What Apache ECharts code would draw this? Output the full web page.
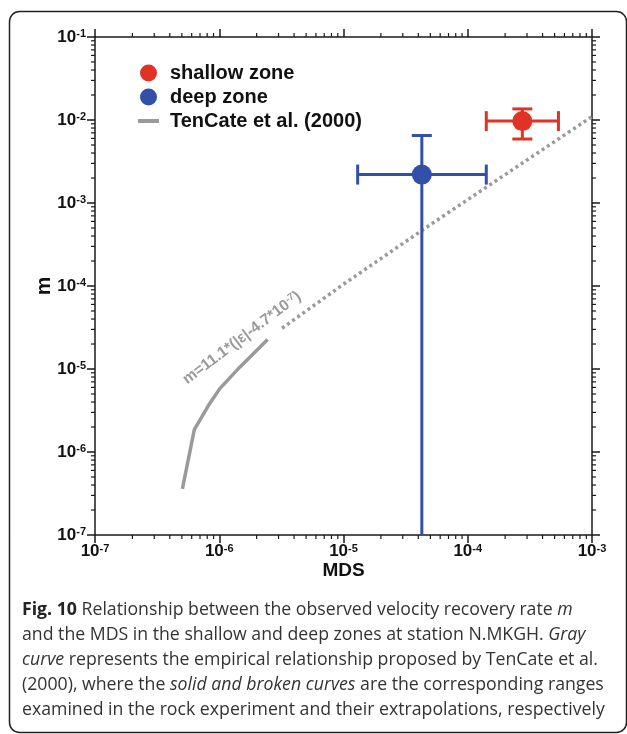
<!DOCTYPE html>
<html>
<head>
<meta charset="utf-8">
<script src="https://cdn.jsdelivr.net/npm/echarts@6/dist/echarts.min.js"></script>
<style>
  html, body { margin: 0; padding: 0; background: #fff; }
  #chart { width: 627px; height: 734px; }
</style>
</head>
<body>
<div id="chart"></div>
<script>
// tick label exponents (labels read 10^n)
var xTickExp = [-7, -6, -5, -4, -3];
var yTickExp = [-7, -6, -5, -4, -3, -2, -1];

// observed points with error bars
var zones = ["shallow zone", "deep zone"];
var mdsValues = [2.75e-4, 4.27e-5];
var mValues = [9.7e-3, 2.2e-3];
var mdsLow = [1.41e-4, 1.30e-5];
var mdsHigh = [5.37e-4, 1.41e-4];
var mLow = [5.9e-3, 1e-8]; // deep zone lower bound runs off the bottom of the axis
var mHigh = [1.36e-2, 6.5e-3];

// TenCate et al. (2000): measured range (solid) and extrapolation (dotted)
var tencateMds = [5.05e-7, 6.3e-7, 8.2e-7, 1.01e-6, 1.47e-6, 2.45e-6];
var tencateM = [3.6e-7, 1.86e-6, 3.65e-6, 5.8e-6, 1.06e-5, 2.26e-5];
var extrapMds = [3.2e-6, 1e-5, 4.3e-5, 1e-4, 1e-3];
var extrapM = [3.1e-5, 1.05e-4, 4.7e-4, 1.1e-3, 1.1e-2];

var zoneColors = ["#e03324", "#3350a8"];
var gray = "#9a9a9a";
var FONT = "Liberation Sans, Arial, sans-serif";
var CAPFONT = "Open Sans, sans-serif";

function zip(a, b) {
  return a.map(function (v, i) { return [v, b[i]]; });
}

// minor ticks 2..9 inside each decade
function minorValues(exps) {
  var out = [];
  for (var i = 0; i < exps.length - 1; i++) {
    for (var k = 2; k <= 9; k++) out.push(k * Math.pow(10, exps[i]));
  }
  return out;
}

var xMin = Math.pow(10, xTickExp[0]), xMax = Math.pow(10, xTickExp[xTickExp.length - 1]);
var yMin = Math.pow(10, yTickExp[0]), yMax = Math.pow(10, yTickExp[yTickExp.length - 1]);

function powLabel(value) {
  var e = Math.round(Math.log10(value));
  return "{b|10}{s|" + e + "}";
}
var labelRich = {
  b: { fontSize: 17, fontWeight: "bold", color: "#111", fontFamily: FONT },
  s: { fontSize: 11, fontWeight: "bold", color: "#111", fontFamily: FONT, verticalAlign: "top" }
};

var axisLine = { show: true, lineStyle: { color: "#1a1a1a", width: 1.5 } };
var axisTick = { show: true, inside: false, length: 8, lineStyle: { color: "#1a1a1a", width: 1.5 } };

var errData = zones.map(function (z, i) {
  return [mdsValues[i], mValues[i], mdsLow[i], mdsHigh[i], mLow[i], mHigh[i]];
});

function renderErr(params, api) {
  var x = api.value(0), y = api.value(1);
  var c = api.coord([x, y]);
  var l = api.coord([api.value(2), y]);
  var r = api.coord([api.value(3), y]);
  var t = api.coord([x, api.value(5)]);
  var b = api.coord([x, api.value(4)]);
  var cs = params.coordSys;
  var bottom = cs.y + cs.height;
  var by = Math.min(b[1], bottom);
  var cap = 10;
  var st = { stroke: zoneColors[params.dataIndex], lineWidth: 3 };
  var kids = [
    { type: "line", shape: { x1: l[0], y1: c[1], x2: r[0], y2: c[1] }, style: st },
    { type: "line", shape: { x1: c[0], y1: t[1], x2: c[0], y2: by }, style: st },
    { type: "line", shape: { x1: l[0], y1: c[1] - cap, x2: l[0], y2: c[1] + cap }, style: st },
    { type: "line", shape: { x1: r[0], y1: c[1] - cap, x2: r[0], y2: c[1] + cap }, style: st },
    { type: "line", shape: { x1: c[0] - cap, y1: t[1], x2: c[0] + cap, y2: t[1] }, style: st }
  ];
  if (b[1] <= bottom) {
    kids.push({ type: "line", shape: { x1: c[0] - cap, y1: b[1], x2: c[0] + cap, y2: b[1] }, style: st });
  }
  return { type: "group", children: kids };
}

var tickStyle = { stroke: "#1a1a1a", lineWidth: 1.2 };
function renderXMinor(params, api) {
  var p = api.coord([api.value(0), yMin]);
  var top = params.coordSys.y;
  return {
    type: "group", children: [
      { type: "line", shape: { x1: p[0], y1: p[1], x2: p[0], y2: p[1] + 4 }, style: tickStyle },
      { type: "line", shape: { x1: p[0], y1: top, x2: p[0], y2: top - 4 }, style: tickStyle }
    ]
  };
}
function renderYMinor(params, api) {
  var p = api.coord([xMin, api.value(1)]);
  var cs = params.coordSys;
  var right = cs.x + cs.width;
  return {
    type: "group", children: [
      { type: "line", shape: { x1: p[0], y1: p[1], x2: p[0] - 4, y2: p[1] }, style: tickStyle },
      { type: "line", shape: { x1: right, y1: p[1], x2: right + 4, y2: p[1] }, style: tickStyle }
    ]
  };
}

var captionLines = [
  "{b|Fig. 10} Relationship between the observed velocity recovery rate {i|m}",
  "and the MDS in the shallow and deep zones at station N.MKGH. {i|Gray}",
  "{i|curve} represents the empirical relationship proposed by TenCate et al.",
  "(2000), where the {i|solid and broken curves} are the corresponding ranges",
  "examined in the rock experiment and their extrapolations, respectively"
];

var chart = echarts.init(document.getElementById("chart"));

var graphics = [
  {
    type: "rect", silent: true, z: 0,
    shape: { x: 9.5, y: 11.5, width: 617, height: 721, r: 10 },
    style: { fill: "none", stroke: "#222", lineWidth: 1.5 }
  },
  {
    type: "text", x: 242, y: 338, rotation: 37 * Math.PI / 180, z: 10,
    style: {
      text: "m=11.1*(|ε|-4.7*10{s|-7})",
      fill: gray, fontSize: 15.5, fontWeight: "bold", fontFamily: FONT,
      align: "center", verticalAlign: "middle",
      rich: { s: { fontSize: 10, fontWeight: "bold", fill: gray, fontFamily: FONT, verticalAlign: "top" } }
    }
  }
];
var capSize = 17.7;
captionLines.forEach(function (line, i) {
  graphics.push({
    type: "text", x: 22, y: 610 + i * 25, z: 10,
    style: {
      text: line, fill: "#333", fontSize: capSize, fontFamily: CAPFONT,
      verticalAlign: "middle",
      rich: {
        b: { fontWeight: "bold", fontSize: capSize, fill: "#222", fontFamily: CAPFONT },
        i: { fontStyle: "italic", fontSize: capSize, fill: "#333", fontFamily: CAPFONT }
      }
    }
  });
});

chart.setOption({
  animation: false,
  backgroundColor: "#fff",
  grid: { left: 95, top: 37, width: 497, height: 498 },
  legend: {
    orient: "vertical", left: 133, top: 58,
    itemWidth: 21, itemHeight: 17, itemGap: 4,
    data: [
      { name: zones[0], icon: "circle" },
      { name: zones[1], icon: "circle" },
      { name: "TenCate et al. (2000)", icon: "path://M0,0H21V4H0Z" }
    ],
    textStyle: { fontSize: 20, fontWeight: "bold", color: "#111", fontFamily: FONT, padding: [0, 0, 0, 6] }
  },
  xAxis: [
    {
      type: "log", logBase: 10, min: xMin, max: xMax, position: "bottom",
      name: "MDS", nameLocation: "middle", nameGap: 26, nameMoveOverlap: false,
      nameTextStyle: { fontSize: 19, fontWeight: "bold", color: "#111", fontFamily: FONT },
      axisLine: axisLine, axisTick: axisTick, splitLine: { show: false },
      axisLabel: { formatter: powLabel, rich: labelRich, margin: 8 }
    },
    {
      type: "log", logBase: 10, min: xMin, max: xMax, position: "top",
      axisLine: axisLine, axisTick: axisTick, splitLine: { show: false },
      axisLabel: { show: false }
    }
  ],
  yAxis: [
    {
      type: "log", logBase: 10, min: yMin, max: yMax, position: "left",
      name: "m", nameLocation: "middle", nameRotate: 90, nameGap: 40, nameMoveOverlap: false,
      nameTextStyle: { fontSize: 21, fontWeight: "bold", color: "#111", fontFamily: FONT },
      axisLine: axisLine, axisTick: axisTick, splitLine: { show: false },
      axisLabel: { formatter: powLabel, rich: labelRich, margin: 9 }
    },
    {
      type: "log", logBase: 10, min: yMin, max: yMax, position: "right",
      axisLine: axisLine, axisTick: axisTick, splitLine: { show: false },
      axisLabel: { show: false }
    }
  ],
  series: [
    {
      type: "custom", name: "x minor", silent: true, clip: false,
      renderItem: renderXMinor,
      data: minorValues(xTickExp).map(function (v) { return [v, yMin]; })
    },
    {
      type: "custom", name: "y minor", silent: true, clip: false,
      renderItem: renderYMinor,
      data: minorValues(yTickExp).map(function (v) { return [xMin, v]; })
    },
    {
      type: "line", name: "TenCate et al. (2000)", data: zip(tencateMds, tencateM),
      symbol: "none", lineStyle: { color: gray, width: 3.5 }, itemStyle: { color: gray }, z: 2
    },
    {
      type: "line", name: "TenCate extrapolation", data: zip(extrapMds, extrapM),
      symbol: "none", lineStyle: { color: gray, width: 3.5, type: [3, 3.3], cap: "butt" }, z: 2
    },
    {
      type: "custom", name: "error bars", renderItem: renderErr, data: errData, z: 3
    },
    {
      type: "scatter", name: zones[0], data: [[mdsValues[0], mValues[0]]],
      symbol: "circle", symbolSize: 20, itemStyle: { color: zoneColors[0], opacity: 1 }, z: 4
    },
    {
      type: "scatter", name: zones[1], data: [[mdsValues[1], mValues[1]]],
      symbol: "circle", symbolSize: 20, itemStyle: { color: zoneColors[1], opacity: 1 }, z: 4
    }
  ],
  graphic: graphics
});
</script>
</body>
</html>
